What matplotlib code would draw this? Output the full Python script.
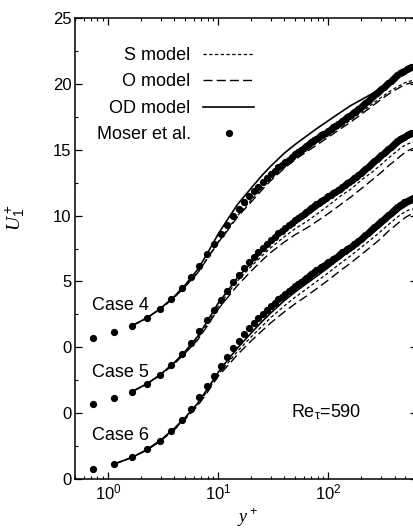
import matplotlib
matplotlib.use('Agg')
import matplotlib.pyplot as plt
from matplotlib.ticker import MultipleLocator, FixedLocator, FixedFormatter

plt.rcParams['font.family'] = ['Liberation Sans', 'DejaVu Sans']
plt.rcParams['mathtext.fontset'] = 'custom'
plt.rcParams['mathtext.rm'] = 'Liberation Sans'
plt.rcParams['mathtext.it'] = 'Liberation Serif:italic'
plt.rcParams['mathtext.bf'] = 'Liberation Sans:bold'

# ---- DNS data (Moser et al.), Re_tau = 590 ----
yplus_dns = [0.73, 1.13, 1.65, 2.26, 2.93, 3.75, 4.65, 5.65, 6.75, 7.95, 9.25, 10.6,
             12.1, 13.7, 15.4, 17.2, 19.1, 21.1, 23.2, 25.4, 27.7, 30.1, 32.6, 35.2,
             37.9, 40.7, 43.6, 46.6, 49.7, 52.9, 56.2, 59.6, 63.1, 66.7, 70.4, 74.2,
             78.1, 82.1, 86.2, 90.4, 95, 100, 105, 110, 116, 122, 128, 134, 141, 148,
             155, 163, 171, 179, 188, 197, 207, 217, 228, 239, 251, 263, 276, 290,
             304, 319, 335, 351, 368, 386, 405, 425, 446, 468, 491, 515, 540, 565, 590]
u_dns = [0.73, 1.13, 1.64, 2.24, 2.9, 3.68, 4.5, 5.35, 6.2, 7.05, 7.85, 8.6,
         9.3, 9.95, 10.5, 11.0, 11.45, 11.85, 12.2, 12.55, 12.85, 13.15, 13.4, 13.65,
         13.85, 14.05, 14.25, 14.45, 14.65, 14.8, 14.95, 15.1, 15.25, 15.4, 15.55, 15.7,
         15.85, 15.95, 16.1, 16.2, 16.3, 16.45, 16.55, 16.7, 16.8, 16.95, 17.05, 17.2, 17.3, 17.45,
         17.55, 17.7, 17.85, 17.95, 18.1, 18.25, 18.4, 18.55, 18.7, 18.85, 19.0, 19.15, 19.3, 19.45,
         19.6, 19.75, 19.9, 20.05, 20.2, 20.35, 20.5, 20.65, 20.8, 20.9, 21.0, 21.1, 21.2, 21.25, 21.3]

# ---- model results ----
yplus_model = [1.65, 2.26, 3, 4, 5, 6.5, 8, 10, 12.5, 15, 20, 25, 30, 40, 50, 65, 80,
               100, 130, 160, 200, 250, 300, 350, 400, 450, 500, 550, 590]
yplus_model6 = [1.13, 1.65, 2.26, 3, 4, 5, 6.5, 8, 10, 12.5, 15, 20, 25, 30, 40, 50, 65, 80,
                100, 130, 160, 200, 250, 300, 350, 400, 450, 500, 550, 590]

od_case4 = [1.64, 2.24, 2.96, 3.87, 4.72, 5.9, 7.15, 8.6, 9.85, 10.85, 12.1, 13.05, 13.75, 14.75,
            15.4, 16.1, 16.65, 17.2, 17.85, 18.35, 18.8, 19.25, 19.7, 20.1, 20.45, 20.75, 21.0, 21.15, 21.25]
s_case4 = [1.64, 2.22, 2.92, 3.8, 4.6, 5.65, 6.8, 8.0, 9.1, 10.0, 11.2, 12.1, 12.8, 13.75,
           14.4, 15.05, 15.55, 16.1, 16.75, 17.25, 17.85, 18.45, 18.95, 19.35, 19.65, 19.9, 20.1, 20.2, 20.25]
o_case4 = [1.64, 2.22, 2.92, 3.8, 4.6, 5.65, 6.75, 7.95, 9.0, 9.9, 11.05, 11.95, 12.65, 13.6,
           14.25, 14.9, 15.4, 15.95, 16.6, 17.1, 17.7, 18.3, 18.8, 19.2, 19.5, 19.75, 19.95, 20.05, 20.1]

od_case5 = [1.64, 2.24, 2.95, 3.85, 4.68, 5.82, 7.0, 8.35, 9.4, 10.3, 11.4, 12.25, 12.9, 13.8,
            14.4, 15.05, 15.6, 16.2, 16.95, 17.45, 18.15, 18.75, 19.3, 19.8, 20.15, 20.5, 20.75, 20.95, 21.05]
s_case5 = [1.64, 2.22, 2.92, 3.8, 4.6, 5.65, 6.8, 8.1, 9.2, 10.05, 11.15, 11.95, 12.55, 13.4,
           14.0, 14.6, 15.15, 15.75, 16.5, 17.0, 17.7, 18.3, 18.85, 19.35, 19.75, 20.1, 20.35, 20.5, 20.55]
o_case5 = [1.64, 2.2, 2.9, 3.75, 4.55, 5.55, 6.65, 7.9, 8.9, 9.7, 10.8, 11.6, 12.2, 13.0,
           13.55, 14.1, 14.6, 15.15, 15.85, 16.4, 17.05, 17.7, 18.25, 18.75, 19.15, 19.5, 19.8, 20.0, 20.1]

od_case6 = [1.13, 1.64, 2.24, 2.95, 3.85, 4.65, 5.75, 6.85, 8.1, 9.15, 9.95, 11.1, 11.95, 12.6, 13.55,
            14.2, 14.9, 15.45, 16.05, 16.8, 17.35, 18.0, 18.65, 19.2, 19.7, 20.1, 20.45, 20.7, 20.9, 21.0]
s_case6 = [1.13, 1.64, 2.22, 2.92, 3.8, 4.58, 5.65, 6.7, 7.95, 8.9, 9.7, 10.8, 11.6, 12.25, 13.15,
           13.8, 14.5, 15.05, 15.65, 16.4, 16.95, 17.6, 18.25, 18.8, 19.3, 19.7, 20.05, 20.3, 20.45, 20.5]
o_case6 = [1.13, 1.64, 2.2, 2.9, 3.75, 4.52, 5.55, 6.6, 7.8, 8.7, 9.45, 10.5, 11.25, 11.85, 12.7,
           13.3, 13.95, 14.5, 15.1, 15.85, 16.4, 17.05, 17.7, 18.25, 18.8, 19.2, 19.55, 19.85, 20.05, 20.15]

case_names = ['Case 4', 'Case 5', 'Case 6']
case_offsets = [10, 5, 0]
ytick_values = [0, 5, 10, 15, 20, 25, 30, 35]
ytick_labels = ['0', '0', '0', '5', '10', '15', '20', '25']

# ---- styles ----
S_DASH = (2.6, 2.0)
O_DASH = (6.5, 3.0)

fig = plt.figure(figsize=(4.14, 5.30), dpi=100)
ax = fig.add_axes([75 / 414, 51 / 530, 342 / 414, 461 / 530])

cases = [
    (yplus_model, od_case4, s_case4, o_case4),
    (yplus_model, od_case5, s_case5, o_case5),
    (yplus_model6, od_case6, s_case6, o_case6),
]

for (ym, od, s, o), off in zip(cases, case_offsets):
    ax.plot(ym, [v + off for v in s], color='black', lw=0.9, dashes=S_DASH)
    ax.plot(ym, [v + off for v in o], color='black', lw=1.0, dashes=O_DASH)
    ax.plot(ym, [v + off for v in od], color='black', lw=1.2)
    ax.plot(yplus_dns, [v + off for v in u_dns], 'o', color='black', ms=4.2, mec='black')

# legend handles
hS, = ax.plot([], [], color='black', lw=0.9, dashes=S_DASH, label='S model')
hO, = ax.plot([], [], color='black', lw=1.0, dashes=O_DASH, label='O model')
hOD, = ax.plot([], [], color='black', lw=1.2, label='OD model')
hM, = ax.plot([], [], 'o', color='black', ms=4.2, label='Moser et al.')
leg = ax.legend(handles=[hS, hO, hOD, hM], loc='upper right', bbox_to_anchor=(0.523, 0.937),
                markerfirst=False, frameon=False, fontsize=13, handlelength=2.8,
                handletextpad=0.7, labelspacing=0.52, borderpad=0, borderaxespad=0,
                numpoints=1)

ax.set_xscale('log')
ax.set_xlim(0.5, 640)
ax.set_ylim(0, 35)
ax.yaxis.set_major_locator(FixedLocator(ytick_values))
ax.yaxis.set_major_formatter(FixedFormatter(ytick_labels))
ax.yaxis.set_minor_locator(MultipleLocator(2.5))

ax.tick_params(which='both', direction='in', top=True, right=True, labelsize=12)
ax.tick_params(which='major', length=5, width=0.9, pad=2.5)
ax.tick_params(which='minor', length=2.5, width=0.8)
for sp in ax.spines.values():
    sp.set_linewidth(1.1)

# case labels
ax.text(0.715, 13.2, case_names[0], fontsize=13, ha='left', va='center')
ax.text(0.715, 8.05, case_names[1], fontsize=13, ha='left', va='center')
ax.text(0.715, 3.27, case_names[2], fontsize=13, ha='left', va='center')
ax.text(46, 5.09, r'Re$_{\mathregular{\tau}}$=590', fontsize=13, ha='left', va='center')

ax.set_xlabel(r'$y^+$', fontsize=13)
ax.xaxis.set_label_coords(0.503, -0.058)
ax.set_ylabel(r'$U_1^+$', fontsize=14)
ax.yaxis.set_label_coords(-0.14, 0.566)

fig.savefig('out.png', dpi=100)
